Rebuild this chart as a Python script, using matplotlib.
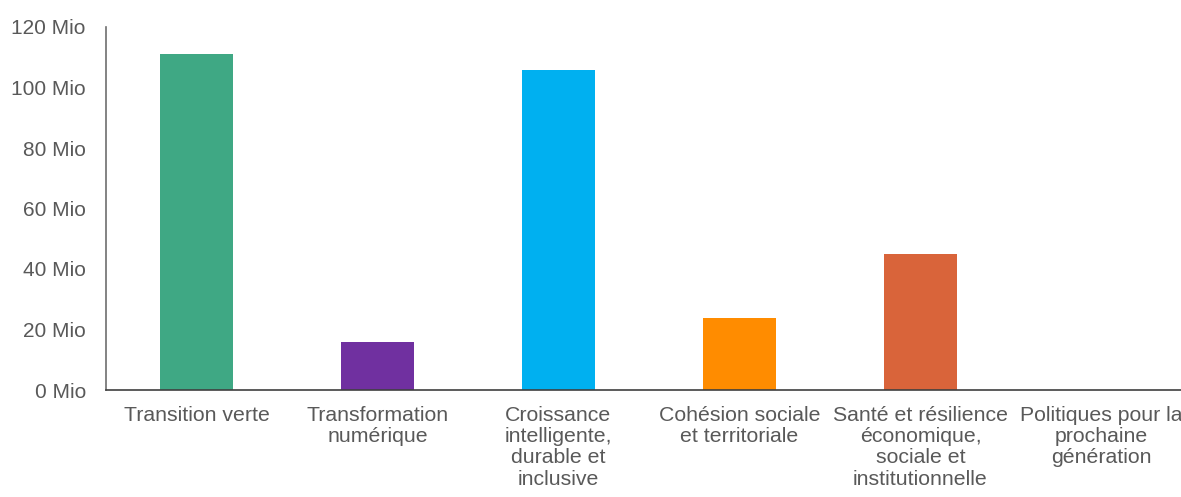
import matplotlib
matplotlib.use("Agg")
import matplotlib.pyplot as plt

categories = ["Transition verte", "Transformation\nnumérique",
              "Croissance\nintelligente,\ndurable et\ninclusive",
              "Cohésion sociale\net territoriale",
              "Santé et résilience\néconomique,\nsociale et\ninstitutionnelle",
              "Politiques pour la\nprochaine\ngénération"]
values = [111, 16, 105.8, 23.8, 45, 0]
colors = ["#3FA884", "#7030A0", "#00B0F0", "#FF8C00", "#D9643A", "#A0A0A0"]
yticks = [0, 20, 40, 60, 80, 100, 120]

plt.rcParams["font.family"] = ["Liberation Sans", "DejaVu Sans"]
textColor = "#595959"

fig = plt.figure(figsize=(11.81, 4.97), dpi=100)
ax = fig.add_axes([106 / 1181, 107 / 497, 1086 / 1181, 363 / 497])

x = range(len(categories))
ax.bar(x, values, width=0.4, color=colors)

ax.set_xlim(-0.5, len(categories) - 0.5)
ax.set_ylim(0, 120)
ax.set_yticks(yticks)
ax.set_yticklabels([str(v) + " Mio" for v in yticks])
ax.set_xticks(list(x))
ax.set_xticklabels(categories, va="top", ha="center", linespacing=1.15)

ax.tick_params(axis="y", length=0, pad=14.5, labelsize=15, labelcolor=textColor)
ax.tick_params(axis="x", length=0, pad=11.5, labelsize=15.3, labelcolor=textColor)

for side in ["top", "right"]:
    ax.spines[side].set_visible(False)
ax.spines["left"].set_color("#6E6E6E")
ax.spines["bottom"].set_color("#404040")
ax.spines["left"].set_linewidth(1.2)
ax.spines["bottom"].set_linewidth(1.2)

fig.savefig("out.png", dpi=100)
